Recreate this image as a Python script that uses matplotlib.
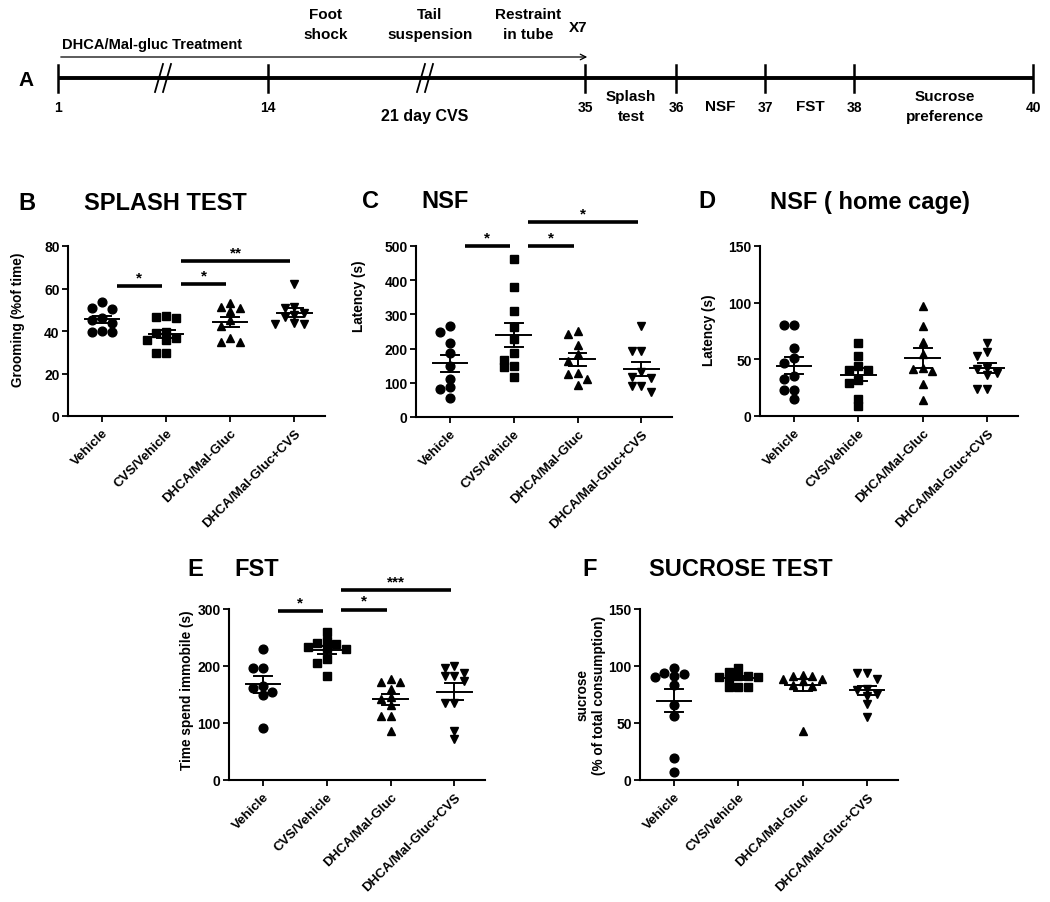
import matplotlib
matplotlib.use("Agg")
import matplotlib.pyplot as plt
import numpy as np

plt.rcParams["font.family"] = ["Liberation Sans", "DejaVu Sans"]
plt.rcParams["font.weight"] = "bold"
plt.rcParams["axes.labelweight"] = "bold"

W, H = 1050, 903

# ---------------- data ----------------
groups = ["Vehicle", "CVS/Vehicle", "DHCA/Mal-Gluc", "DHCA/Mal-Gluc+CVS"]
markers = ["o", "s", "^", "v"]

# B: splash test, grooming (% of time)
splash = [
    [53.5, 51, 50.5, 46, 45, 44, 39.5, 39.5, 40],
    [47, 46.5, 46, 39.5, 39, 36.5, 36, 36, 29.5, 29.5],
    [53, 51.5, 51, 49.5, 45, 42.5, 36.5, 35, 35],
    [62, 51.5, 51, 48.5, 47.5, 46.5, 44, 43.5, 43.5],
]
splash_sig = [(0, 1, 61.3, "*"), (1, 2, 62.2, "*"), (1, 3, 72.8, "**")]

# C: NSF latency (s)
nsf = [
    [267, 250, 217, 187, 150, 112, 87, 82, 56],
    [461, 379, 309, 262, 228, 186, 167, 150, 146, 117],
    [252, 243, 211, 184, 165, 129, 126, 112, 95],
    [267, 194, 192, 131, 117, 114, 90, 90, 73],
]
nsf_sig = [(0, 1, 500, "*"), (1, 2, 500, "*"), (1, 3, 570, "*")]

# D: NSF home cage latency (s)
nsf_home = [
    [80, 80, 60, 51, 46.6, 35, 33, 22.6, 22.6, 14.6],
    [64.5, 52.7, 44.5, 41, 41, 31.4, 29.3, 15.2, 8.8],
    [96.7, 79.7, 65.6, 54.8, 42.2, 41.6, 39.3, 28.4, 13.8],
    [64.5, 56.3, 53.3, 42.2, 41.6, 38, 36, 24, 24],
]

# E: FST immobility (s)
fst = [
    [230, 196, 196, 165, 155, 161, 149, 92],
    [259, 244, 240, 238.6, 232.7, 230, 231, 212, 206, 183],
    [178, 172.5, 172.5, 159.6, 142, 145, 131.6, 113, 113, 86.5],
    [199.4, 196, 187.7, 182, 182, 174, 135, 135, 86.5, 72],
]
fst_sig = [(0, 1, 296, "*"), (1, 2, 299, "*"), (1, 3, 333, "***")]

# F: sucrose preference (% of total consumption)
sucrose = [
    [98, 91.5, 94, 93, 90, 83.3, 65.8, 55.8, 19, 6.7],
    [98, 95, 91.5, 91.5, 90, 90, 88.6, 82, 82, 82],
    [91.5, 92, 91.5, 88.6, 88.6, 87, 83, 82.7, 43],
    [94, 94, 89, 80, 79, 75.4, 74, 66.7, 55],
]

# A: timeline
tick_days = ["1", "14", "35", "36", "37", "38", "40"]
stress_labels = ["Foot\nshock", "Tail\nsuspension", "Restraint\nin tube"]
test_labels = ["Splash\ntest", "NSF", "FST", "Sucrose\npreference"]

fig = plt.figure(figsize=(W / 100, H / 100), dpi=100)


def px_axes(left, top, right, bottom):
    return fig.add_axes([left / W, 1 - bottom / H, (right - left) / W, (bottom - top) / H])


def fig_text(x, y, s, **kw):
    fig.text(x / W, 1 - y / H, s, **kw)


# ---------------- panel A ----------------
axA = px_axes(0, 0, W, 170)
axA.set_xlim(0, W)
axA.set_ylim(170, 0)
axA.axis("off")
narrow = ["Liberation Sans Narrow", "Liberation Sans"]
tick_x = [58, 268, 585, 676, 765, 854, 1033]
line_y = 79
axA.plot([tick_x[0], tick_x[-1]], [line_y, line_y], color="black", lw=2.8, solid_capstyle="butt")
for x, d in zip(tick_x, tick_days):
    axA.plot([x, x], [66, 93], color="black", lw=1.8)
    axA.text(x, 108, d, ha="center", va="center", fontsize=10, family=narrow)
for bx in (163, 425):
    for dx in (-4, 4):
        axA.plot([bx + dx - 4, bx + dx + 4], [93, 65], color="black", lw=1.3)
axA.annotate("", xy=(590, 58), xytext=(58, 58),
             arrowprops=dict(arrowstyle="->", lw=0.9, color="black"))
axA.text(62, 45, "DHCA/Mal-gluc Treatment", ha="left", va="center", fontsize=10.5, family=narrow)
for x, s in zip([326, 430, 528], stress_labels):
    axA.text(x, 25, s, ha="center", va="center", fontsize=11, family=narrow, linespacing=1.5)
axA.text(578, 28, "X7", ha="center", va="center", fontsize=11, family=narrow)
axA.text(425, 116, "21 day CVS", ha="center", va="center", fontsize=11.5, family=narrow)
for x, s in zip([631, 720, 810, 945], test_labels):
    axA.text(x, 107, s, ha="center", va="center", fontsize=11, family=narrow, linespacing=1.5)
fig_text(18, 80, "A", ha="left", va="center", fontsize=15)


# ---------------- scatter panels ----------------
def swarm_offsets(vals, thresh, step):
    vals = np.asarray(vals, dtype=float)
    offs = np.zeros(len(vals))
    placed = []
    for i in np.argsort(vals)[::-1]:
        best, best_hits = 0.0, None
        for k in (0, -1, 1, -2, 2):
            o = k * step
            hits = sum(1 for po, pv in placed if abs(o - po) < step * 0.5 and abs(vals[i] - pv) < thresh)
            if hits == 0:
                best = o
                break
            if best_hits is None or hits < best_hits:
                best, best_hits = o, hits
        offs[i] = best
        placed.append((best, vals[i]))
    return offs


def scatter_panel(rect, data, ylim, yticks, ylabel, label_xy, sig=()):
    ax = px_axes(*rect)
    yr = ylim[1] - ylim[0]
    for i, vals in enumerate(data):
        vals = np.asarray(vals, dtype=float)
        offs = swarm_offsets(vals, yr * 0.04, 0.15)
        ax.plot(i + offs, vals, linestyle="none", marker=markers[i], color="black",
                markersize=6.3, clip_on=False, zorder=3)
        m = vals.mean()
        se = vals.std(ddof=1) / np.sqrt(len(vals))
        ax.plot([i - 0.27, i + 0.27], [m, m], color="black", lw=1.4, zorder=4)
        ax.plot([i - 0.14, i + 0.14], [m + se, m + se], color="black", lw=1.4, zorder=4)
        ax.plot([i - 0.14, i + 0.14], [m - se, m - se], color="black", lw=1.4, zorder=4)
        ax.plot([i, i], [m - se, m + se], color="black", lw=1.4, zorder=4)
    for a, b, y, s in sig:
        ax.plot([a + 0.23, b - 0.06], [y, y], color="black", lw=2.6, clip_on=False,
                solid_capstyle="butt")
        ax.text((a + 0.23 + b - 0.06) / 2, y + yr * 0.01, s, ha="center", va="bottom",
                fontsize=11, clip_on=False)
    ax.set_xlim(-0.53, 3.48)
    ax.set_ylim(*ylim)
    ax.set_yticks(yticks)
    ax.set_xticks(range(len(groups)))
    ax.set_xticklabels(groups, rotation=45, ha="right", rotation_mode="anchor", fontsize=9.5)
    ax.tick_params(axis="y", labelsize=10, length=4, width=1.3, direction="out", pad=2)
    ax.tick_params(axis="x", length=4, width=1.3, direction="out")
    for sp in ("top", "right"):
        ax.spines[sp].set_visible(False)
    for sp in ("left", "bottom"):
        ax.spines[sp].set_linewidth(1.5)
    ax.set_ylabel(ylabel, fontsize=9.8, linespacing=1.25)
    ax.yaxis.set_label_coords(*label_xy)
    return ax


scatter_panel((68, 247, 325, 417), splash, (0, 80), [0, 20, 40, 60, 80],
              "Grooming (%of time)", (-0.167, 0.57), splash_sig)
scatter_panel((416, 247, 672, 418), nsf, (0, 500), [0, 100, 200, 300, 400, 500],
              "Latency (s)", (-0.195, 0.71), nsf_sig)
scatter_panel((760, 247, 1018, 417), nsf_home, (0, 150), [0, 50, 100, 150],
              "Latency (s)", (-0.17, 0.51))
scatter_panel((229, 610, 485, 781), fst, (0, 300), [0, 100, 200, 300],
              "Time spend immobile (s)", (-0.137, 0.53), fst_sig)
scatter_panel((640, 610, 898, 781), sucrose, (0, 150), [0, 50, 100, 150],
              "sucrose\n(% of total consumption)", (-0.13, 0.5))

title_kw = dict(ha="center", va="center", fontsize=17)
fig_text(18, 204, "B", ha="left", va="center", fontsize=17)
fig_text(165, 204, "SPLASH TEST", **title_kw)
fig_text(362, 202, "C", ha="left", va="center", fontsize=17)
fig_text(445, 202, "NSF", **title_kw)
fig_text(698, 202, "D", ha="left", va="center", fontsize=17)
fig_text(870, 202, "NSF ( home cage)", **title_kw)
fig_text(187, 570, "E", ha="left", va="center", fontsize=17)
fig_text(257, 570, "FST", **title_kw)
fig_text(582, 570, "F", ha="left", va="center", fontsize=17)
fig_text(741, 570, "SUCROSE TEST", **title_kw)

fig.savefig("out.png", dpi=100)
